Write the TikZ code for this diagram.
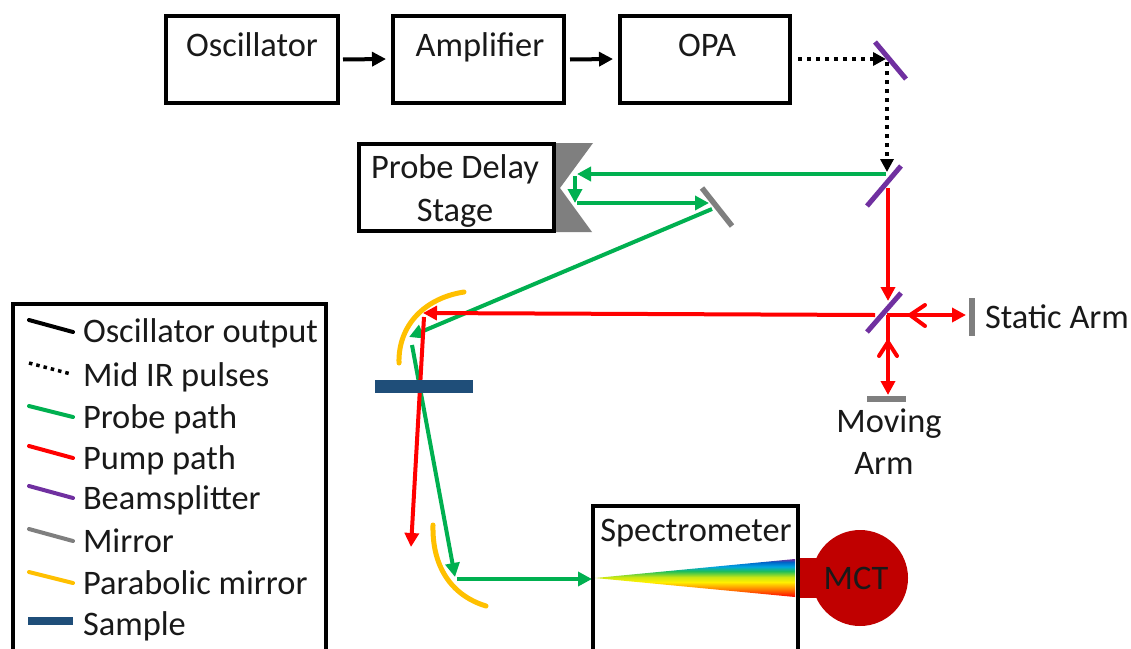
\documentclass[tikz,border=0pt]{standalone}
\usepackage{fontspec}
\setmainfont{Carlito}
\usetikzlibrary{arrows.meta}
\definecolor{gbeam}{RGB}{0,176,80}
\definecolor{rbeam}{RGB}{255,0,0}
\definecolor{bsp}{RGB}{112,48,160}
\definecolor{mgrey}{RGB}{127,127,127}
\definecolor{para}{RGB}{255,192,0}
\definecolor{samp}{RGB}{31,78,121}
\definecolor{mct}{RGB}{192,0,0}
\definecolor{rfa}{RGB}{255,0,0}
\definecolor{rfb}{RGB}{255,130,0}
\definecolor{rfc}{RGB}{255,240,0}
\definecolor{rfd}{RGB}{200,230,20}
\definecolor{rfe}{RGB}{30,190,90}
\definecolor{rff}{RGB}{0,165,225}
\definecolor{rfg}{RGB}{0,100,200}
\definecolor{rfh}{RGB}{112,48,160}
\pgfdeclareverticalshading{rainbowfan}{100bp}{
 color(0bp)=(rfa);
 color(25bp)=(rfa);
 color(35.5bp)=(rfb);
 color(44.7bp)=(rfc);
 color(51.3bp)=(rfd);
 color(59bp)=(rfe);
 color(65bp)=(rff);
 color(71bp)=(rfg);
 color(75bp)=(rfh);
 color(100bp)=(rfh)}
\tikzset{
 x=1pt,y=-1pt,
 lab/.style={font=\fontsize{34.4}{40}\selectfont,inner sep=0pt,outer sep=0pt,text=black!90},
 boxn/.style={draw=black,line width=4.5pt,fill=white,inner sep=0pt,outer sep=0pt},
 tipn/.style={-{Triangle[length=14pt,width=14pt]}},
 blackbeam/.style={line width=4pt,black,tipn},
 dotbeam/.style={line width=4pt,black,dash pattern=on 4pt off 5pt,-{Triangle[length=13pt,width=13pt,sep=0pt]}},
 green beam/.style={line width=4pt,gbeam,tipn},
 red beam/.style={line width=4pt,rbeam,tipn},
 barb/.style={line width=4pt,rbeam,line cap=round,line join=round},
 splitter/.style={line width=5pt,bsp},
 mirrorline/.style={line width=5.5pt,mgrey},
 parabola/.style={line width=5pt,para,line cap=round},
 sampleline/.style={line width=13pt,samp},
 legline/.style={line width=4pt,line cap=round},
}
\begin{document}
\begin{tikzpicture}
\clip (0,0) rectangle (1131,648);
\fill[white] (0,0) rectangle (1131,648);
% top boxes
\node[boxn,minimum width=172pt,minimum height=87pt] (osc) at (252,59.5) {};
\node[boxn,minimum width=171pt,minimum height=87pt] (amp) at (478.5,59.5) {};
\node[boxn,minimum width=170pt,minimum height=87pt] (opa) at (705,59.5) {};
\node[lab] (osct) at (252,45) {Oscillator};
\node[lab] (ampt) at (480,47) {Amplifier};
\node[lab] (opat) at (707,45) {OPA};
% coordinates
\coordinate (pa) at (423,313);
\coordinate (pb) at (409,337);
% delay stage
\fill[mgrey] (555,143) -- (593,143) -- (560,188) -- (592,232) -- (555,232) -- cycle;
\node[boxn,minimum width=195pt,minimum height=87pt] (pds) at (456.5,187.5) {};
\node[lab] (pdst1) at (455,169) {Probe Delay};
\node[lab] (pdst2) at (455,213) {Stage};
% mirrors
\draw[splitter] (875,42) -- (906,79);
\draw[splitter] (901,166) -- (867,206);
\draw[splitter] (901,293) -- (867,332);
\draw[mirrorline] (702,188) -- (732,226);
\draw[mirrorline] (972,298) -- (972,336);
\draw[mirrorline] (867,399) -- (906,399);
\draw[parabola] (464,292) .. controls (425,298) and (398,325) .. (399,363);
\draw[parabola] (433,525) .. controls (432,565) and (450,595) .. (486,606);
% top connectors
\draw[blackbeam] (osc.east) ++(5,0) -- (386,59);
\draw[blackbeam] (amp.east) ++(6,0) -- (613,59);
\draw[dotbeam] (798,59) -- (886,59);
\draw[dotbeam] (887,62) -- (887,172);
% green path
\draw[green beam] (886,174) -- (577,174);
\draw[green beam] (575,176) -- (575,203);
\draw[green beam] (577,203) -- (709,203);
\draw[green beam,shorten <=0pt] (712,209) -- (pb);
\draw[green beam] (412,345) -- (455,577);
\draw[green beam] (457,579) -- (592,579);
% red path
\draw[red beam] (888,188) -- (888,301);
\draw[red beam] (875,315) -- (pa);
\draw[red beam] (424,317) -- (411,547);
\draw[red beam] (887,315) -- (966,315);
\draw[barb] (925,305) -- (910,315) -- (925,326);
\draw[red beam] (888,315) -- (888,395);
\draw[barb] (879,356) -- (888,342) -- (897,356);
% sample
\draw[sampleline] (375,386.5) -- (473,386.5);
% spectrometer and detector
\fill[mct] (797,558) rectangle (820,598);
\node[circle,fill=mct,minimum size=96pt,inner sep=0pt,outer sep=0pt] (det) at (860,578) {};
\node[boxn,fill=none,minimum width=205pt,minimum height=170pt] (spec) at (695.5,591) {};
\shade[shading=rainbowfan] (595,578) -- (795,559) -- (795,597) -- cycle;
\node[lab] (spect) at (696,533) {Spectrometer};
\node[lab] (mctt) at (856,578) {MCT};
% arm labels
\node[lab,anchor=west] (sa) at (985,317) {Static Arm};
\node[lab] (ma1) at (889,424) {Moving};
\node[lab] (ma2) at (884,463) {Arm};
% legend
\node[boxn,minimum width=313pt,minimum height=380pt] (leg) at (169.5,494) {};
\draw[legline,black] (29,320) -- (73,332);
\draw[line width=3.5pt,black,dash pattern=on 3.5pt off 4pt] (29,363) -- (71,374);
\draw[legline,gbeam] (29,406) -- (73,417);
\draw[legline,rbeam] (29,446) -- (73,458);
\draw[legline,bsp] (29,486) -- (73,498);
\draw[legline,mgrey] (29,529) -- (73,541);
\draw[legline,para] (29,572) -- (73,583);
\draw[line width=8pt,samp] (28,621) -- (73,621);
\node[lab,anchor=base west] (l1) at (83,342) {Oscillator output};
\node[lab,anchor=base west] (l2) at (83,386) {Mid IR pulses};
\node[lab,anchor=base west] (l3) at (83,428) {Probe path};
\node[lab,anchor=base west] (l4) at (83,469) {Pump path};
\node[lab,anchor=base west] (l5) at (83,509) {Beamsplitter};
\node[lab,anchor=base west] (l6) at (83,552) {Mirror};
\node[lab,anchor=base west] (l7) at (83,594) {Parabolic mirror};
\node[lab,anchor=base west] (l8) at (83,635) {Sample};
\end{tikzpicture}
\end{document}
